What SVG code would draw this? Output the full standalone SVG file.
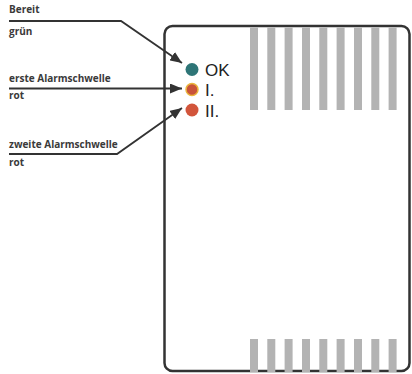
<svg xmlns="http://www.w3.org/2000/svg" width="412" height="374" viewBox="0 0 412 374">
<style>
.lbl{font-family:"Open Sans","Liberation Sans",sans-serif;font-weight:bold;font-size:10px;fill:#3a3a3a}
.led{font-family:"Liberation Sans",Arial,sans-serif;font-size:17px;fill:#222}
.bar{fill:#b3b3b3}
.ln{fill:none;stroke:#333;stroke-width:1.8}
</style>
<defs>
<marker id="ah" viewBox="0 0 12 10" refX="12" refY="5" markerWidth="12" markerHeight="10" markerUnits="userSpaceOnUse" orient="auto">
<path d="M0,0 L12,5 L0,10 Z" fill="#333"/>
</marker>
</defs>
<g id="device">
<rect x="164.5" y="26" width="245" height="345" rx="8" fill="#fff" stroke="#333" stroke-width="2.5"/>
<g id="vents-top">
<rect class="bar" x="250" y="27.5" width="8" height="82.5"/>
<rect class="bar" x="267.3" y="27.5" width="8" height="82.5"/>
<rect class="bar" x="284.6" y="27.5" width="8" height="82.5"/>
<rect class="bar" x="302" y="27.5" width="8" height="82.5"/>
<rect class="bar" x="319.3" y="27.5" width="8" height="82.5"/>
<rect class="bar" x="336.6" y="27.5" width="8" height="82.5"/>
<rect class="bar" x="354" y="27.5" width="8" height="82.5"/>
<rect class="bar" x="371.3" y="27.5" width="8" height="82.5"/>
<rect class="bar" x="388.6" y="27.5" width="8" height="82.5"/>
</g>
<g id="vents-bottom">
<rect class="bar" x="250" y="339" width="8" height="33"/>
<rect class="bar" x="267.3" y="339" width="8" height="33"/>
<rect class="bar" x="284.6" y="339" width="8" height="33"/>
<rect class="bar" x="302" y="339" width="8" height="33"/>
<rect class="bar" x="319.3" y="339" width="8" height="33"/>
<rect class="bar" x="336.6" y="339" width="8" height="33"/>
<rect class="bar" x="354" y="339" width="8" height="33"/>
<rect class="bar" x="371.3" y="339" width="8" height="33"/>
<rect class="bar" x="388.6" y="339" width="8" height="33"/>
</g>
</g>
<g id="led-ok">
<circle cx="192" cy="69.5" r="6.5" fill="#2e7577"/>
<text class="led" x="205" y="76">OK</text>
</g>
<g id="led-1">
<circle cx="192" cy="89.5" r="6" fill="#c9533a" stroke="#eab53c" stroke-width="1.5"/>
<text class="led" x="205" y="96">I.</text>
</g>
<g id="led-2">
<circle cx="192" cy="110" r="6.5" fill="#d2553b"/>
<text class="led" x="205" y="116.5">II.</text>
</g>
<g id="label-bereit">
<text class="lbl" x="9" y="13">Bereit</text>
<text class="lbl" x="9" y="35">grün</text>
</g>
<g id="label-erste">
<text class="lbl" x="9" y="81.5">erste Alarmschwelle</text>
<text class="lbl" x="9" y="98.5">rot</text>
</g>
<g id="label-zweite">
<text class="lbl" x="9" y="147.5">zweite Alarmschwelle</text>
<text class="lbl" x="9" y="166">rot</text>
</g>
<g id="connectors">
<polyline class="ln" points="9,21 121,21 182,63" marker-end="url(#ah)"/>
<polyline class="ln" points="9,88.5 182,88.5" marker-end="url(#ah)"/>
<polyline class="ln" points="9,154 117,154 182,108" marker-end="url(#ah)"/>
</g>
</svg>
